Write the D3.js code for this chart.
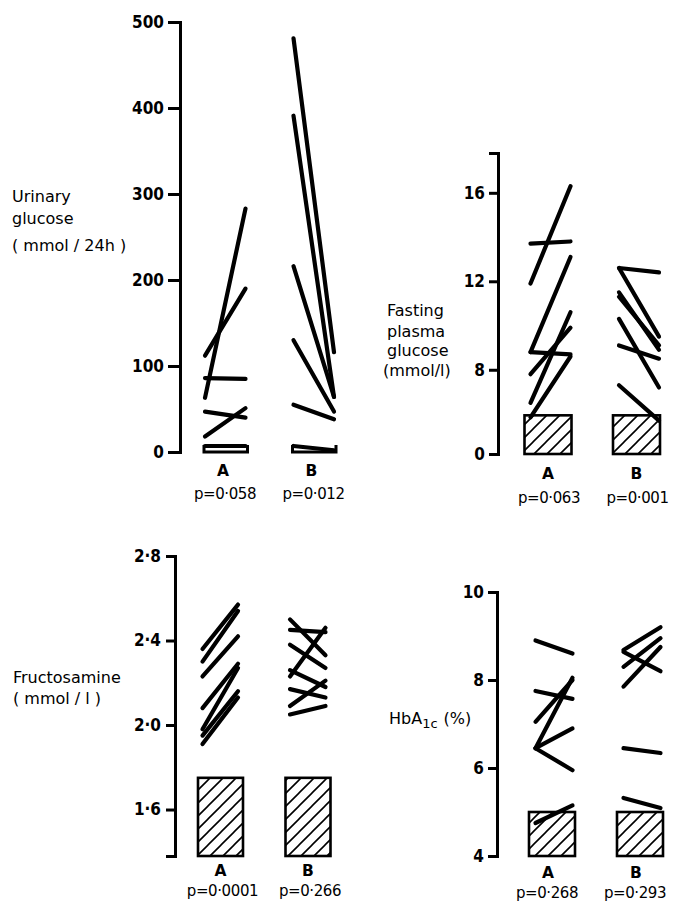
<!DOCTYPE html>
<html><head><meta charset="utf-8">
<script src="https://cdn.jsdelivr.net/npm/d3@7"></script>
<style>body{margin:0;background:#fff}</style>
</head><body>
<svg id="c" width="681" height="903"></svg>
<script>
// ---------- DATA ----------
const groups = ["A", "B"];
// each pair: [before, after]
const urinaryA = [[63,283],[112,190],[86,85],[18,51],[47,40],[7,7]];
const urinaryB = [[481,116],[391,64],[216,64],[130,47],[55,38],[7,2]];
const urinaryTicks = [0,100,200,300,400,500];
const urinaryP = ["p=0·058","p=0·012"];

const fastingA = [[11.9,16.3],[13.7,13.8],[8.8,13.1],[8.8,8.7],[5.5,8.6],[6.5,10.6],[7.8,9.9]];
const fastingB = [[12.6,12.4],[12.6,9.5],[11.5,8.9],[11.3,9.1],[10.3,7.2],[9.1,8.5],[7.3,5.0]];
const fastingTicks = [0,8,12,16];
const fastingNormal = 5.8;
const fastingP = ["p=0·063","p=0·001"];

const fructA = [[2.36,2.57],[2.30,2.54],[2.23,2.42],[2.08,2.29],[1.98,2.27],[1.95,2.16],[1.91,2.13]];
const fructB = [[2.50,2.33],[2.45,2.44],[2.38,2.27],[2.23,2.46],[2.26,2.18],[2.09,2.21],[2.17,2.13],[2.05,2.09]];
const fructTicks = [1.6,2.0,2.4,2.8];
const fructNormal = 1.75;
const fructP = ["p=0·0001","p=0·266"];

const hbaA = [[8.9,8.6],[7.75,7.57],[7.05,8.0],[6.45,8.05],[6.45,6.9],[6.45,5.95],[4.75,5.15]];
const hbaB = [[8.68,9.2],[8.3,8.95],[8.64,8.2],[7.85,8.75],[6.45,6.34],[5.32,5.09]];
const hbaTicks = [4,6,8,10];
const hbaNormal = 5.0;
const hbaP = ["p=0·268","p=0·293"];

// ---------- DRAW ----------
const svg = d3.select("#c");
const defs = svg.append("defs");
const pat = defs.append("pattern").attr("id","hatch").attr("patternUnits","userSpaceOnUse")
  .attr("width",13).attr("height",13);
pat.append("path").attr("d","M0,13L13,0M-3,3L3,-3M10,16L16,10")
  .attr("stroke","#000").attr("stroke-width",1.6);

const tickFont = "'Liberation Sans Narrow','DejaVu Sans Condensed',sans-serif";
const labFont = "'DejaVu Sans',sans-serif";

function panel(cfg){
  const g = svg.append("g");
  const y = cfg.y;
  const ax = g.append("g").attr("transform",`translate(${cfg.axisX},0)`)
    .call(d3.axisLeft(y).tickValues(cfg.ticks).tickFormat(cfg.fmt)
      .tickSizeInner(cfg.tick).tickSizeOuter(cfg.tick).tickPadding(cfg.pad));
  ax.select(".domain").attr("stroke","#000").attr("stroke-width",3).attr("fill","none");
  ax.selectAll(".tick line").attr("stroke","#000").attr("stroke-width",3);
  ax.selectAll(".tick text").attr("font-family",tickFont).attr("font-weight","bold")
    .attr("font-size",17).attr("fill","#000");

  const gx = d3.scalePoint().domain(groups).range(cfg.centers);
  const px = d3.scalePoint().domain(["pre","post"]).range(cfg.inner);

  if (cfg.normal !== undefined){
    g.selectAll("rect.box").data(groups).join("rect").attr("class","box")
      .attr("x", d => gx(d) - cfg.boxW/2).attr("width", cfg.boxW)
      .attr("y", y(cfg.normal)).attr("height", y(cfg.boxBase) - y(cfg.normal))
      .attr("fill","url(#hatch)").attr("stroke","#000").attr("stroke-width",2.6);
  }
  if (cfg.bracket){
    g.selectAll("path.br").data(groups).join("path").attr("class","br")
      .attr("d", d => {
        const x0 = gx(d)+px("pre")-1, x1 = gx(d)+px("post")+2;
        return `M${x0},${y(cfg.bracket[1])}V${y(cfg.bracket[0])}H${x1}V${y(cfg.bracket[1])}`;
      })
      .attr("fill","none").attr("stroke","#000").attr("stroke-width",3);
  }
  groups.forEach((grp,i) => {
    g.selectAll(null).data(cfg.data[i]).join("line")
      .attr("x1", gx(grp)+px("pre")).attr("x2", gx(grp)+px("post"))
      .attr("y1", d => y(d[0])).attr("y2", d => y(d[1]))
      .attr("stroke","#000").attr("stroke-width",4.2).attr("stroke-linecap","round");
  });
  g.selectAll("text.grp").data(groups).join("text").attr("class","grp")
    .attr("x", d => gx(d)+cfg.labDx).attr("y", cfg.labY).attr("text-anchor","middle")
    .attr("font-family",labFont).attr("font-size",15.5).attr("font-weight","600").text(d=>d);
  g.selectAll("text.pv").data(cfg.p).join("text").attr("class","pv")
    .attr("x", (d,i) => gx(groups[i])+cfg.pDx).attr("y", cfg.pY).attr("text-anchor","middle")
    .attr("font-family",labFont).attr("font-size",15).attr("letter-spacing","-0.4").text(d=>d);
  cfg.title.forEach(t => {
    g.append("text").attr("x",t[0]).attr("y",t[1]).attr("font-family",labFont)
      .attr("font-size",16).text(t[2]);
  });
  return g;
}

const dot = v => d3.format(".1f")(v).replace(".","·");

panel({
  y: d3.scaleLinear().domain([0,500]).range([452,22]),
  axisX:180, ticks:urinaryTicks, fmt:d3.format("d"), tick:12, pad:4,
  centers:[225,313.5], inner:[-20,20.5],
  data:[urinaryA,urinaryB], bracket:[0,8],
  labDx:-2, labY:476, p:urinaryP, pDx:0, pY:499,
  title:[[12,202,"Urinary"],[12,224,"glucose"],[12,251,"( mmol / 24h )"]]
});

panel({
  y: d3.scaleLinear().domain([0,6,17.8]).range([454,414,153]),
  axisX:498, ticks:fastingTicks, fmt:d3.format("d"), tick:9, pad:4,
  centers:[548,636.5], inner:[-17.5,22.5],
  data:[fastingA,fastingB], normal:fastingNormal, boxBase:0, boxW:47,
  labDx:0, labY:479, p:fastingP, pDx:1, pY:503,
  title:[[387,316,"Fasting"],[387,337,"plasma"],[387,356,"glucose"],[383,376,"(mmol/l)"]]
});

panel({
  y: d3.scaleLinear().domain([1.38,2.8]).range([856,556]),
  axisX:175, ticks:fructTicks, fmt:dot, tick:9, pad:5,
  centers:[220.5,308], inner:[-18,17.5],
  data:[fructA,fructB], normal:fructNormal, boxBase:1.38, boxW:45,
  labDx:0, labY:876, p:fructP, pDx:2, pY:896,
  title:[[13,683,"Fructosamine"],[13,704,"( mmol / l )"]]
});

const hb = panel({
  y: d3.scaleLinear().domain([4,10]).range([856,592]),
  axisX:497, ticks:hbaTicks, fmt:d3.format("d"), tick:9, pad:4,
  centers:[552,640], inner:[-16.5,20.5],
  data:[hbaA,hbaB], normal:hbaNormal, boxBase:4, boxW:46,
  labDx:-4, labY:878, p:hbaP, pDx:-5, pY:898,
  title:[]
});
const ht = hb.append("text").attr("x",389).attr("y",724).attr("font-family",labFont).attr("font-size",16);
ht.append("tspan").text("HbA");
ht.append("tspan").attr("font-size",13).attr("dy",4).text("1c");
ht.append("tspan").attr("dy",-4).attr("dx",6).text("(%)");
</script>
</body></html>
